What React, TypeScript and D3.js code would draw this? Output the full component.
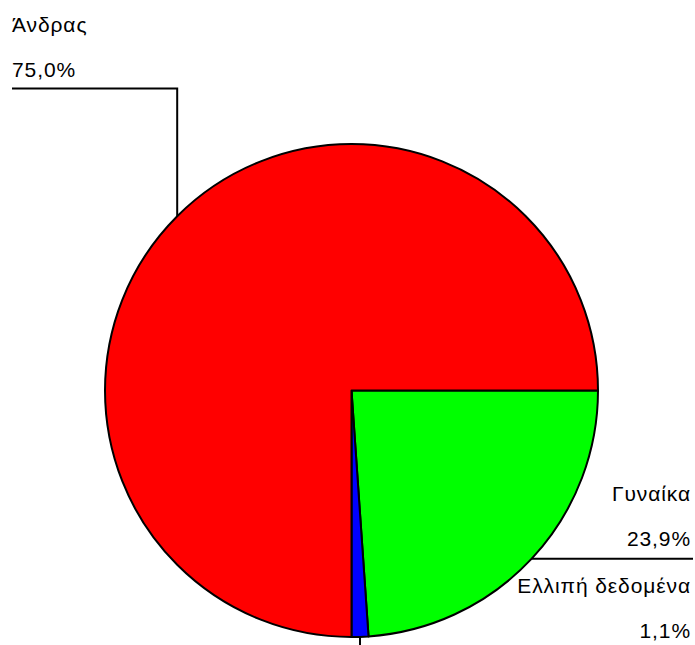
import React from "react";
import * as d3 from "d3";

const categories = ["Γυναίκα", "Ελλιπή δεδομένα", "Άνδρας"];
const values = [23.9, 1.1, 75.0];
const percentLabels = ["23,9%", "1,1%", "75,0%"];
const colors = ["#00ff00", "#0000ff", "#ff0000"];

const W = 695;
const H = 645;
const cx = 351.5;
const cy = 390.5;
const R = 246.5;

export default function App() {
  const pie = d3
    .pie<number>()
    .sort(null)
    .startAngle(Math.PI / 2)
    .endAngle(Math.PI / 2 + 2 * Math.PI)
    .value((d) => d);
  const arcs = pie(values);
  const arc = d3.arc<d3.PieArcDatum<number>>().innerRadius(0).outerRadius(R);

  const edge = (a: d3.PieArcDatum<number>) => {
    const m = (a.startAngle + a.endAngle) / 2;
    return [cx + R * Math.sin(m), cy - R * Math.cos(m)];
  };

  const [gx, gy] = edge(arcs[0]);
  const [bx, by] = edge(arcs[1]);
  const [rx, ry] = edge(arcs[2]);

  const font = {
    fontFamily: "Liberation Sans, Arial, sans-serif",
    fontSize: 21,
    letterSpacing: 0.9,
    fill: "#000",
  };

  return (
    <svg width={W} height={H} style={{ position: "absolute", left: 0, top: 0, background: "#fff" }}>
      <g transform={`translate(${cx},${cy})`}>
        {arcs.map((a, i) => (
          <path key={i} d={arc(a) || ""} fill={colors[i]} stroke="#000" strokeWidth={2} strokeLinejoin="round" />
        ))}
      </g>
      {/* Leader lines */}
      <polyline points={`${rx},${ry} ${rx},88.5 12,88.5`} fill="none" stroke="#000" strokeWidth={2} />
      <polyline points={`${gx},${gy} 693,${gy}`} fill="none" stroke="#000" strokeWidth={2} />
      <polyline points={`${bx},${by} ${bx},${H}`} fill="none" stroke="#000" strokeWidth={2} />
      {/* Labels */}
      <text x={12} y={32} {...font}>{categories[2]}</text>
      <text x={12} y={77} {...font}>{percentLabels[2]}</text>
      <text x={691} y={501} textAnchor="end" {...font}>{categories[0]}</text>
      <text x={691} y={546} textAnchor="end" {...font}>{percentLabels[0]}</text>
      <text x={691} y={593} textAnchor="end" {...font}>{categories[1]}</text>
      <text x={691} y={638} textAnchor="end" {...font}>{percentLabels[1]}</text>
    </svg>
  );
}
